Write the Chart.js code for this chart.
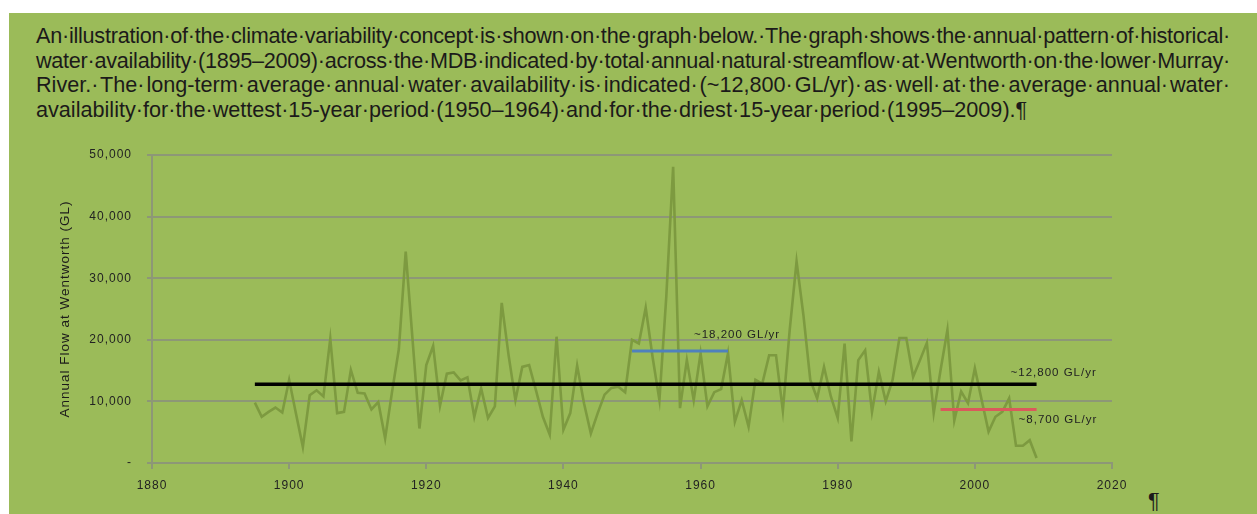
<!DOCTYPE html>
<html>
<head>
<meta charset="utf-8">
<script src="https://cdn.jsdelivr.net/npm/chart.js@4"></script>
<style>
  html, body { margin: 0; padding: 0; background: #fff; }
  #page { position: relative; width: 1257px; height: 514px; overflow: hidden; }
  #green { position: absolute; left: 9px; top: 13px; right: 0; bottom: 0; background: #9bbb59; }
  #text { position: absolute; left: 36px; top: 24px; font-family: "Liberation Sans", Arial, sans-serif;
          font-size: 18px; line-height: 24.6px; color: #1c1a1a; }
  #text div { white-space: nowrap; width: max-content; }
  #pilcrow { position: absolute; left: 1148px; top: 489px; font-family: "Liberation Sans", Arial, sans-serif;
             font-size: 18px; line-height: 24.6px; color: #1c1a1a; }
  #chart { position: absolute; left: 0; top: 0; }
</style>
</head>
<body>
<div id="page">
  <div id="green"></div>
  <div id="text">
    <div class="fill">An·illustration·of·the·climate·variability·concept·is·shown·on·the·graph·below.·The·graph·shows·the·annual·pattern·of·historical·</div>
    <div class="fill">water·availability·(1895–2009)·across·the·MDB·indicated·by·total·annual·natural·streamflow·at·Wentworth·on·the·lower·Murray·</div>
    <div class="fill">River.· The· long-term· average· annual· water· availability· is· indicated· (~12,800· GL/yr)· as· well· at· the· average· annual· water·</div>
    <div id="last">availability·for·the·wettest·15-year·period·(1950–1964)·and·for·the·driest·15-year·period·(1995–2009).¶</div>
  </div>
  <div id="pilcrow">¶</div>
  <canvas id="chart" width="1257" height="514"></canvas>
</div>
<script>
// Annual natural streamflow at Wentworth (GL)
const years = [
  1895, 1896, 1897, 1898, 1899, 1900, 1901, 1902, 1903, 1904,
  1905, 1906, 1907, 1908, 1909, 1910, 1911, 1912, 1913, 1914,
  1915, 1916, 1917, 1918, 1919, 1920, 1921, 1922, 1923, 1924,
  1925, 1926, 1927, 1928, 1929, 1930, 1931, 1932, 1933, 1934,
  1935, 1936, 1937, 1938, 1939, 1940, 1941, 1942, 1943, 1944,
  1945, 1946, 1947, 1948, 1949, 1950, 1951, 1952, 1953, 1954,
  1955, 1956, 1957, 1958, 1959, 1960, 1961, 1962, 1963, 1964,
  1965, 1966, 1967, 1968, 1969, 1970, 1971, 1972, 1973, 1974,
  1975, 1976, 1977, 1978, 1979, 1980, 1981, 1982, 1983, 1984,
  1985, 1986, 1987, 1988, 1989, 1990, 1991, 1992, 1993, 1994,
  1995, 1996, 1997, 1998, 1999, 2000, 2001, 2002, 2003, 2004,
  2005, 2006, 2007, 2008, 2009
];
const flow = [
  9800, 7500, 8300, 9000, 8200, 13500, 8000, 2600, 11000, 11800,
  10800, 20200, 8100, 8300, 15100, 11400, 11300, 8700, 9900, 4000,
  11500, 18500, 34300, 20000, 5600, 15900, 19000, 9300, 14500, 14700,
  13400, 13900, 7500, 12100, 7300, 9200, 26000, 17500, 10200, 15600,
  15900, 11800, 7500, 4600, 20500, 5400, 8100, 15800, 9700, 4800,
  8100, 11100, 12200, 12400, 11500, 20000, 19400, 25200, 17200, 10200,
  27000, 48100, 8900, 16700, 10200, 17800, 9200, 11500, 12000, 17800,
  6700, 10200, 5900, 13500, 12900, 17500, 17500, 8500, 21600, 32700,
  24000, 13500, 10500, 15600, 10800, 7300, 19400, 3500, 16700, 18300,
  8300, 14800, 10000, 13500, 20300, 20300, 14000, 16700, 19500, 8100,
  15100, 21600, 6900, 11600, 9700, 15400, 10200, 5100, 7500, 8300,
  10500, 2800, 2800, 3700, 800
];

// period averages: long-term, wettest 15 years, driest 15 years
const refLabels = ['~12,800 GL/yr', '~18,200 GL/yr', '~8,700 GL/yr'];
const refValues = [12800, 18200, 8700];
const refStart = [1895, 1950, 1995];
const refEnd = [2009, 1964, 2009];
const refColors = ['#000000', '#4f81bd', '#d95a5c'];

const xTicks = [1880, 1900, 1920, 1940, 1960, 1980, 2000, 2020];
const yTicks = [0, 10000, 20000, 30000, 40000, 50000];

// fit the paragraph lines like the justified Word text
function fitText() {
    const last = document.getElementById('last');
    const w4 = last.getBoundingClientRect().width;
    const size = 18 * 992 / w4;
    document.getElementById('text').style.fontSize = size + 'px';
    document.getElementById('pilcrow').style.fontSize = size + 'px';
    document.querySelectorAll('#text .fill').forEach(el => {
        const natural = el.getBoundingClientRect().width;
        const extra = 1194 - natural;
        const spaces = (el.textContent.match(/ /g) || []).length;
        if (spaces > 0) {
            el.style.wordSpacing = (extra / spaces) + 'px';
        } else {
            el.style.letterSpacing = (extra / el.textContent.length) + 'px';
        }
    });
}
fitText();

const gridColor = '#8d9777';
const labelOffsets = [[-26, -11.5], [-34, -16], [-18, 10]];

const spacingPlugin = {
    id: 'spacing',
    beforeDraw(chart) {
        chart.ctx.letterSpacing = '1px';
    }
};

const refLabelPlugin = {
    id: 'refLabels',
    afterDatasetsDraw(chart) {
        const { ctx, scales: { x, y } } = chart;
        ctx.save();
        ctx.font = '11.5px "Liberation Sans"';
        ctx.fillStyle = '#222';
        ctx.textBaseline = 'middle';
        ctx.textAlign = 'left';
        refLabels.forEach((t, i) => {
            const off = labelOffsets[i];
            ctx.fillText(t, x.getPixelForValue(refEnd[i]) + off[0], y.getPixelForValue(refValues[i]) + off[1]);
        });
        ctx.restore();
    }
};

const refDatasets = refValues.map((v, i) => ({
    data: [{ x: refStart[i], y: v }, { x: refEnd[i], y: v }],
    borderColor: refColors[i],
    borderWidth: i === 0 ? 3.5 : 3,
    pointRadius: 0,
    order: 1
}));

const flowDataset = {
    data: years.map((yr, i) => ({ x: yr, y: flow[i] })),
    borderColor: '#7d9a40',
    borderWidth: 2.6,
    pointRadius: 0,
    tension: 0,
    order: 2
};

new Chart(document.getElementById('chart'), {
    type: 'line',
    data: { datasets: [...refDatasets, flowDataset] },
    options: {
        responsive: false,
        animation: false,
        events: [],
        layout: { padding: { top: 155, right: 145, bottom: 0, left: 0 } },
        plugins: { legend: { display: false }, tooltip: { enabled: false } },
        scales: {
            x: {
                type: 'linear',
                min: 1880,
                max: 2020,
                afterFit: s => { s.height = 51; },
                afterBuildTicks: s => { s.ticks = xTicks.map(v => ({ value: v })); },
                grid: { drawOnChartArea: false, color: gridColor, lineWidth: 2, tickLength: 6 },
                border: { color: gridColor, width: 2 },
                ticks: {
                    padding: 9,
                    color: '#222',
                    font: { family: 'Liberation Sans', size: 12 },
                    callback: v => String(v)
                }
            },
            y: {
                min: 0,
                max: 50000,
                afterFit: s => { s.width = 152; },
                afterBuildTicks: s => { s.ticks = yTicks.map(v => ({ value: v })); },
                grid: { color: gridColor, lineWidth: 2, tickLength: 5 },
                border: { color: gridColor, width: 2 },
                ticks: {
                    padding: 15,
                    color: '#222',
                    font: { family: 'Liberation Sans', size: 12 },
                    callback: v => v === 0 ? '-' : v.toLocaleString('en-US')
                },
                title: {
                    display: true,
                    text: 'Annual Flow at Wentworth (GL)',
                    color: '#1c1a1a',
                    font: { family: 'Liberation Sans', size: 13.5 },
                    padding: { top: 57, bottom: 0 }
                }
            }
        }
    },
    plugins: [spacingPlugin, refLabelPlugin]
});
</script>
</body>
</html>
